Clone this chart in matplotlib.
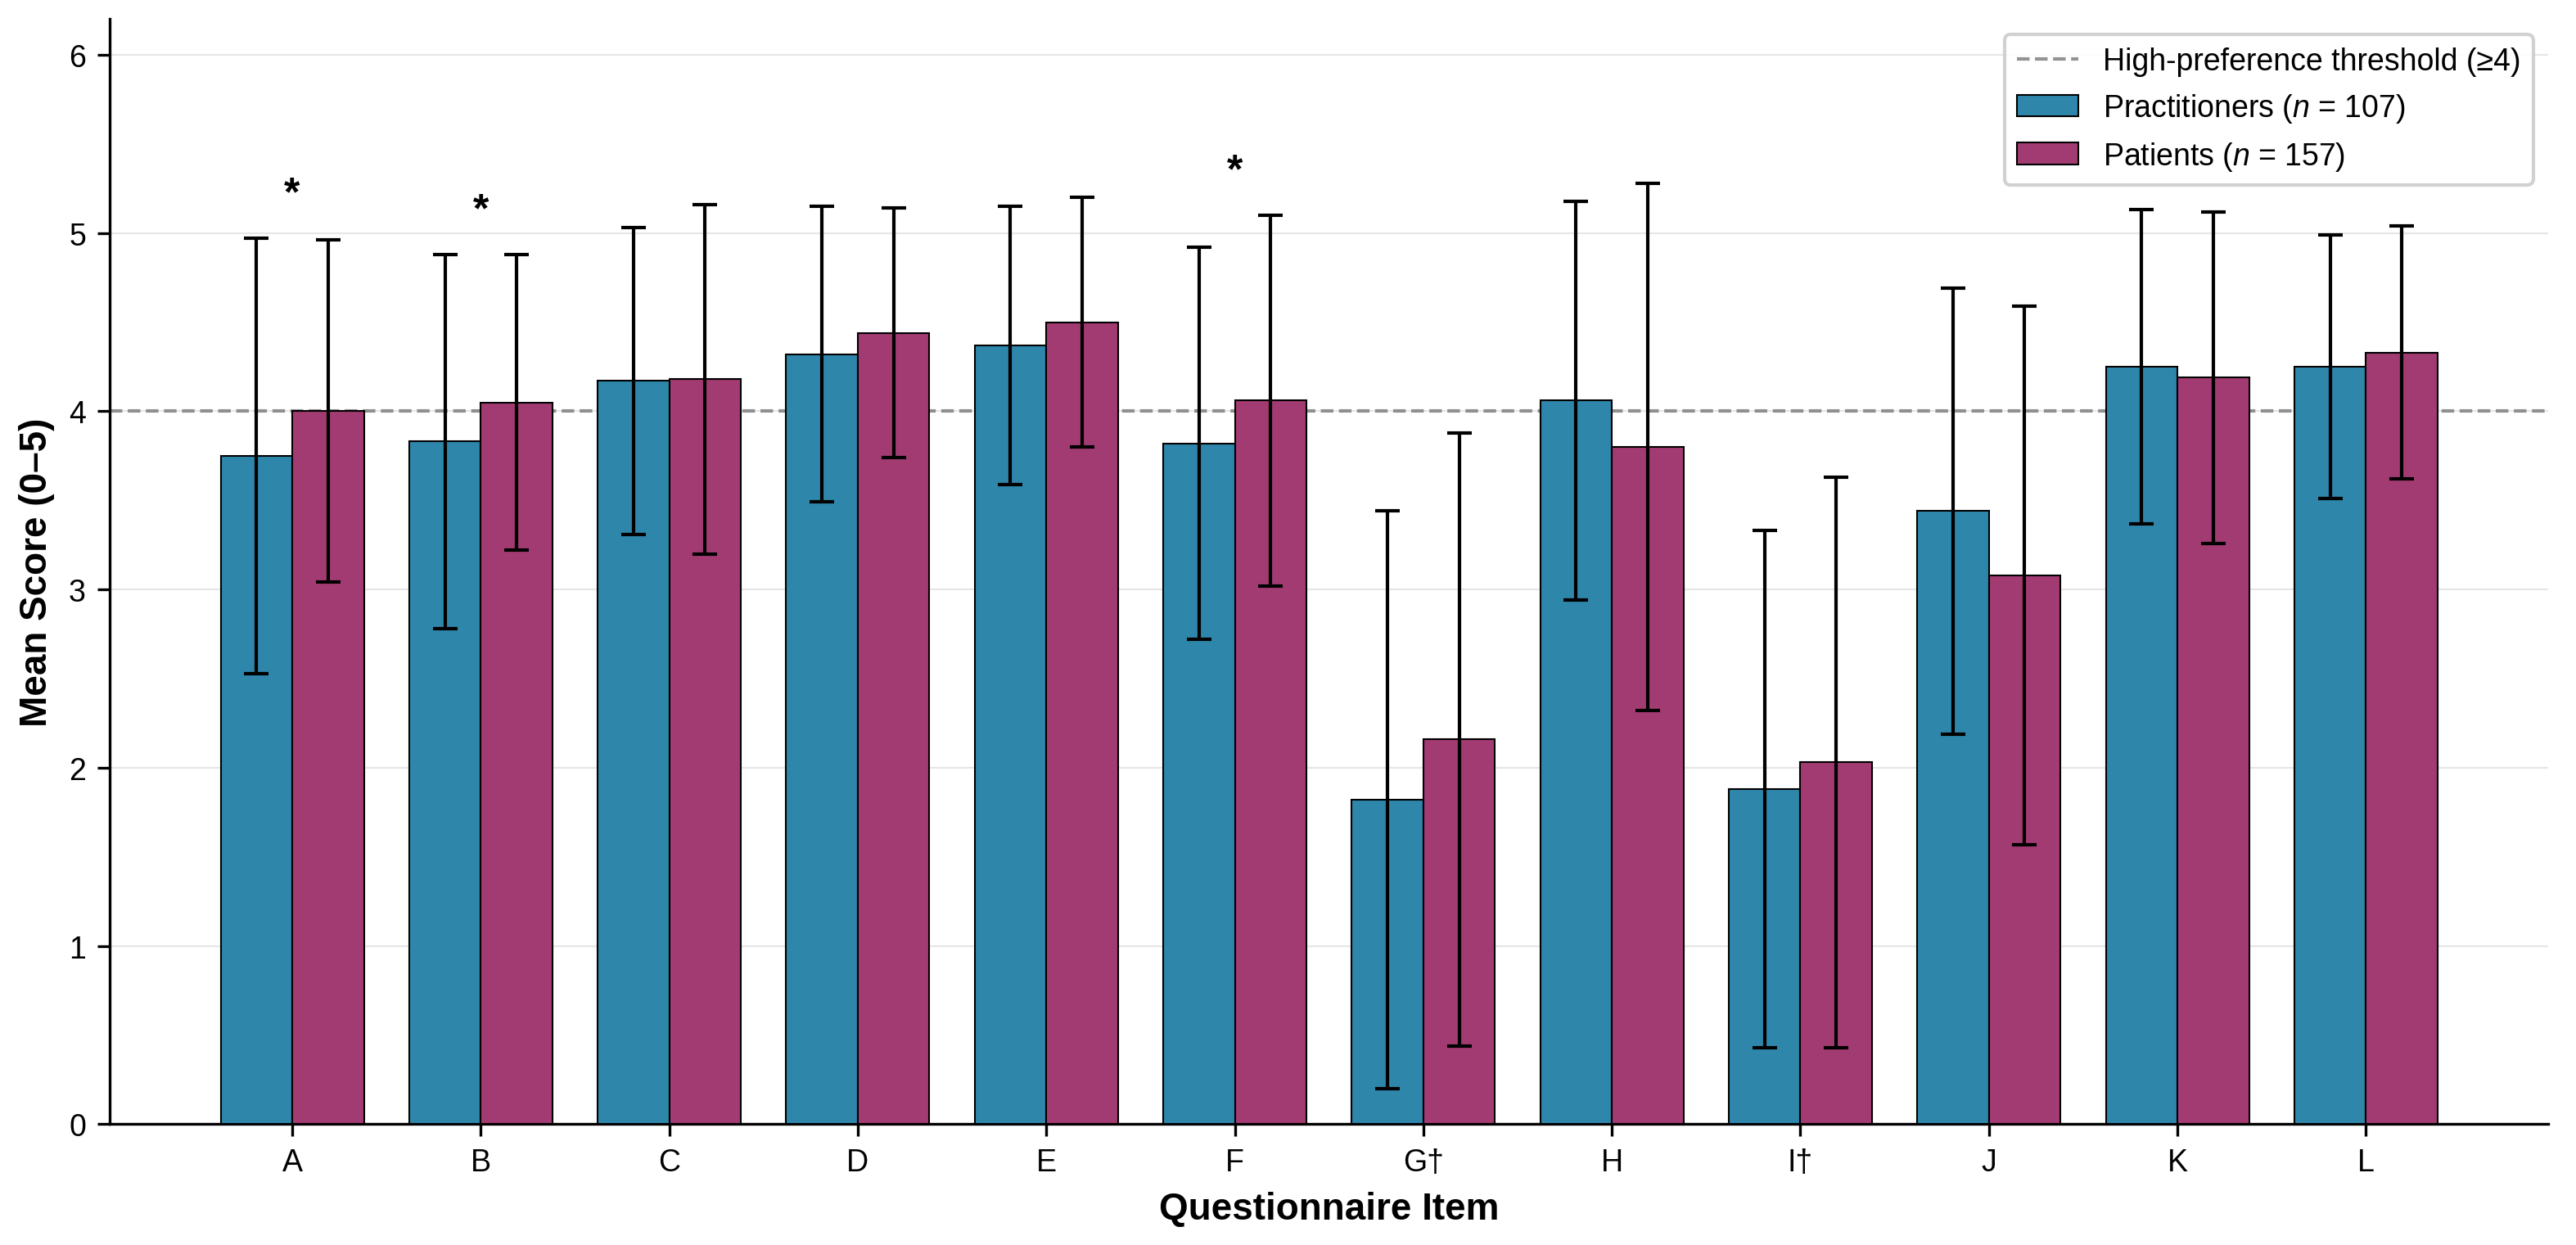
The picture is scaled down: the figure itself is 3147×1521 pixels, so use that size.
import numpy as np
import matplotlib
matplotlib.use("Agg")
import matplotlib.pyplot as plt

plt.rcParams['font.family'] = ['Liberation Sans', 'DejaVu Sans']
plt.rcParams['mathtext.fontset'] = 'custom'
plt.rcParams['mathtext.rm'] = 'Liberation Sans'
plt.rcParams['mathtext.it'] = 'Liberation Sans:italic'

items = ['A', 'B', 'C', 'D', 'E', 'F', 'G†', 'H', 'I†', 'J', 'K', 'L']
prac_mean = [3.75, 3.83, 4.17, 4.32, 4.37, 3.82, 1.82, 4.06, 1.88, 3.44, 4.25, 4.25]
prac_sd = [1.22, 1.05, 0.86, 0.83, 0.78, 1.10, 1.62, 1.12, 1.45, 1.25, 0.88, 0.74]
pat_mean = [4.00, 4.05, 4.18, 4.44, 4.50, 4.06, 2.16, 3.80, 2.03, 3.08, 4.19, 4.33]
pat_sd = [0.96, 0.83, 0.98, 0.70, 0.70, 1.04, 1.72, 1.48, 1.60, 1.51, 0.93, 0.71]
significant = ['A', 'B', 'F']
threshold = 4

blue = '#2E86AB'
magenta = '#A23B72'
width = 0.38
x = np.arange(len(items))

fig, ax = plt.subplots(figsize=(10.493, 5.073), dpi=300)
fig.subplots_adjust(left=0.0426, right=0.989, bottom=0.097, top=0.984)

err_kw = dict(ecolor='black', elinewidth=1.0, capsize=3.5, capthick=1.0)
ax.bar(x - width / 2, prac_mean, width, yerr=prac_sd, color=blue,
       edgecolor='black', linewidth=0.5, error_kw=err_kw,
       label='Practitioners ($n$ = 107)', zorder=3)
ax.bar(x + width / 2, pat_mean, width, yerr=pat_sd, color=magenta,
       edgecolor='black', linewidth=0.5, error_kw=err_kw,
       label='Patients ($n$ = 157)', zorder=3)

ax.axhline(threshold, color='gray', linestyle='--', linewidth=1.0, alpha=0.85,
           label='High-preference threshold (≥4)', zorder=2)

# significance markers above the taller error bar
for i, item in enumerate(items):
    if item in significant:
        top = max(prac_mean[i] + prac_sd[i], pat_mean[i] + pat_sd[i])
        ax.text(x[i], top + 0.14, '*', ha='center', va='bottom',
                fontsize=12, fontweight='bold')

ax.set_xticks(x)
ax.set_xticklabels(items, fontsize=9)
ax.tick_params(axis='y', labelsize=9)
ax.set_ylim(0, 6.2)
ax.set_xlabel('Questionnaire Item', fontsize=11, fontweight='bold')
ax.set_ylabel('Mean Score (0–5)', fontsize=11, fontweight='bold')
ax.yaxis.grid(True, color='#e6e6e6', linewidth=0.5, zorder=0)
ax.set_axisbelow(True)
ax.spines['top'].set_visible(False)
ax.spines['right'].set_visible(False)

ax.legend(loc='upper right', fontsize=9, framealpha=0.9, edgecolor='#cccccc')

fig.savefig('out.png', dpi=300)
